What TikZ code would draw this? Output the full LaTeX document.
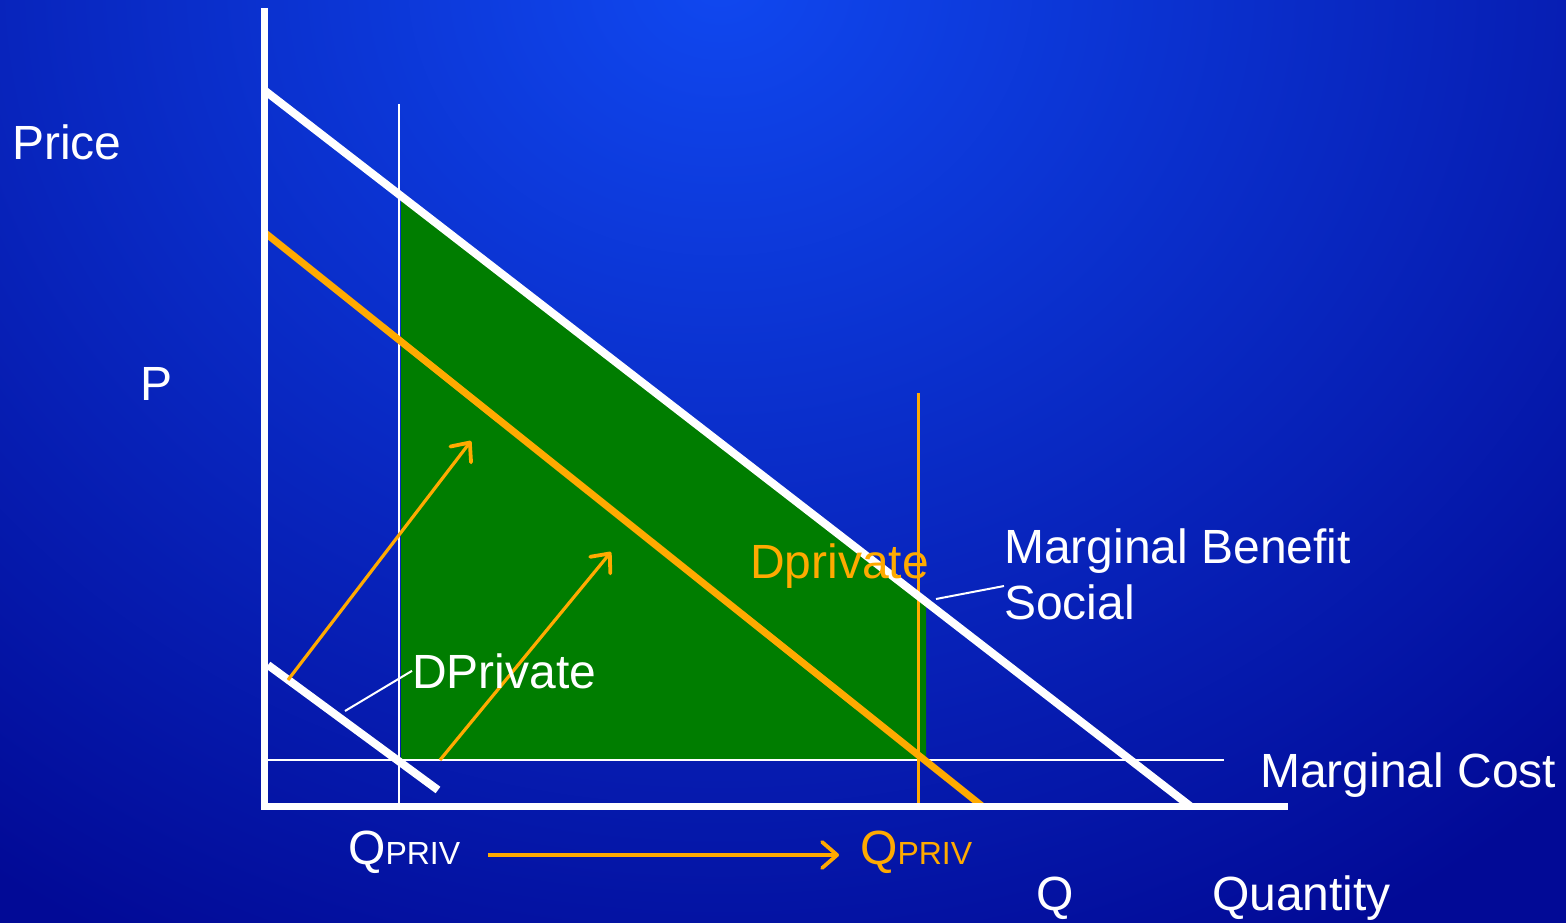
\documentclass[tikz,border=0pt]{standalone}
\usepackage{fontspec}
\setmainfont{Liberation Sans}
\usetikzlibrary{arrows.meta}
\definecolor{bgdark}{RGB}{2,10,150}
\definecolor{bglight}{RGB}{16,72,240}
\definecolor{myorange}{RGB}{255,170,0}
\definecolor{mygreen}{RGB}{0,125,0}
\tikzset{
  axis/.style={white,line width=7pt},
  curvew/.style={white,line width=8pt},
  curveo/.style={myorange,line width=7pt},
  thinw/.style={white,line width=2.5pt},
  thino/.style={myorange,line width=3pt},
  leader/.style={white,line width=2pt},
  shiftarrow/.style={myorange,line width=3.2pt,-{Straight Barb[length=15pt,width=26pt,line width=3.8pt,round]}},
  lbl/.style={anchor=base west,inner sep=0pt,text=white,font=\fontsize{48}{52}\selectfont},
  lblo/.style={lbl,text=myorange},
}
\newcommand{\qpriv}{Q{\fontsize{32}{34}\selectfont PRIV}}
\begin{document}
\begin{tikzpicture}[x=1pt,y=-1pt]
\useasboundingbox (0,0) rectangle (1566,923);
\fill[bgdark] (0,0) rectangle (1566,923);
\begin{scope}
\clip (0,0) rectangle (1566,923);
\shade[inner color=bglight,outer color=bgdark] (720,-20) ellipse [x radius=1250, y radius=1100];
\end{scope}
% coordinates
\coordinate (ytop) at (264,8);
\coordinate (orig) at (264,806);
\coordinate (xend) at (1288,806);
\coordinate (mbA) at (264,90);
\coordinate (mbB) at (1190,806);
\coordinate (dpA) at (264,232);
\coordinate (dpB) at (982,806);
\coordinate (dwA) at (268,665);
\coordinate (dwB) at (438,790);
\coordinate (vwT) at (399,104);
\coordinate (vwB) at (399,806);
\coordinate (voT) at (918,393);
\coordinate (voB) at (918,806);
\coordinate (mcA) at (268,760);
\coordinate (mcB) at (1224,760);
% green area
\fill[mygreen] (401,197) -- (926,602) -- (926,760) -- (401,760) -- cycle;
% lines
\draw[thinw] (mcA) -- (mcB);
\draw[thinw] (vwT) -- (vwB);
\draw[thino] (voT) -- (voB);
\draw[curvew] (mbA) -- (mbB);
\draw[curveo] (dpA) -- (dpB);
\draw[curvew] (dwA) -- (dwB);
\draw[axis] (ytop) -- (orig) -- (xend);
% shift arrows
\coordinate (s1a) at (288,680);
\coordinate (s1b) at (471,441);
\coordinate (s2a) at (440,760);
\coordinate (s2b) at (611,552);
\coordinate (ha) at (488,855);
\coordinate (hb) at (839,855);
\draw[shiftarrow] (s1a) -- (s1b);
\draw[shiftarrow] (s2a) -- (s2b);
\draw[shiftarrow] (ha) -- (hb);
% labels
\node[lbl] (price) at (12,160) {Price};
\node[lbl] (p) at (140,400) {P};
\node[lbl] (mb) at (1004,563) {Marginal Benefit};
\node[lbl] (soc) at (1004,619) {Social};
\node[lblo] (dpo) at (750,578) {Dprivate};
\node[lbl] (dpw) at (412,688) {DPrivate};
\node[lbl] (mc) at (1260,787) {Marginal Cost};
\node[lbl] (q1) at (348,864) {\qpriv};
\node[lblo] (q2) at (860,864) {\qpriv};
\node[lbl] (q) at (1036,910) {Q};
\node[lbl] (qty) at (1212,910) {Quantity};
% leaders
\coordinate (l1) at (345,711);
\coordinate (l2) at (936,599);
\draw[leader] (l1) -- (dpw.west);
\draw[leader] (l2) -- ([yshift=-2pt]soc.north west);
\end{tikzpicture}
\end{document}
